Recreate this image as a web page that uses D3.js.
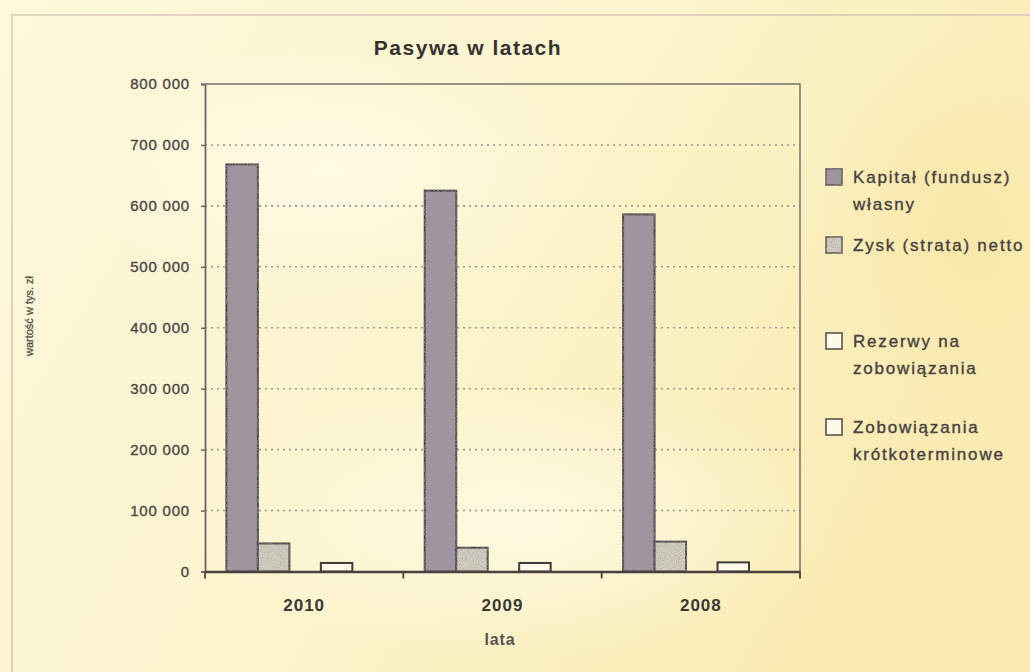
<!DOCTYPE html>
<html>
<head>
<meta charset="utf-8">
<script src="https://cdn.jsdelivr.net/npm/d3@7"></script>
<style>
  body { margin: 0; background: #fbf3c6; }
  svg { display: block; font-family: "Liberation Sans", Arial, sans-serif; }
</style>
</head>
<body>
<svg id="chart"></svg>
<script>
// data (values in zł thousands)
const years = ["2010", "2009", "2008"];
const seriesNames = ["Kapitał (fundusz) własny", "Zysk (strata) netto", "Rezerwy na zobowiązania", "Zobowiązania krótkoterminowe"];
const legendLines = [["Kapitał (fundusz)", "własny"], ["Zysk (strata) netto"], ["Rezerwy na", "zobowiązania"], ["Zobowiązania", "krótkoterminowe"]];
const kapital = [668000, 625000, 586000];
const zysk = [46000, 39000, 49000];
const rezerwy = [0, 0, 0];
const zobowiazania = [14000, 14000, 15000];
const yTicks = [0, 100000, 200000, 300000, 400000, 500000, 600000, 700000, 800000];

const seriesValues = [kapital, zysk, rezerwy, zobowiazania];
const seriesColors = ["#a0939f", "#d9d3c3", "#fffbe8", "#fffbe8"];
const legendY = [183, 251, 347, 433]; // baselines of first legend line

const W = 1030, H = 672;
const plot = { left: 205, right: 800, top: 84, bottom: 571.5 };

const svg = d3.select('#chart').attr('width', W).attr('height', H);

// paper-like background
const defs = svg.append('defs');
const bg = defs.append('linearGradient').attr('id', 'bg').attr('x1', 0).attr('y1', 0).attr('x2', 1).attr('y2', 0.4);
bg.append('stop').attr('offset', '0%').attr('stop-color', '#fdf8dc');
bg.append('stop').attr('offset', '55%').attr('stop-color', '#fcf4cc');
bg.append('stop').attr('offset', '100%').attr('stop-color', '#f9ebb2');
const spot = defs.append('radialGradient').attr('id', 'spot');
spot.append('stop').attr('offset', '0%').attr('stop-color', '#fffbe6').attr('stop-opacity', 0.9);
spot.append('stop').attr('offset', '100%').attr('stop-color', '#fffbe6').attr('stop-opacity', 0);
const warm = defs.append('radialGradient').attr('id', 'warm');
warm.append('stop').attr('offset', '0%').attr('stop-color', '#f7e6a2').attr('stop-opacity', 0.7);
warm.append('stop').attr('offset', '100%').attr('stop-color', '#f7e6a2').attr('stop-opacity', 0);

svg.append('rect').attr('width', W).attr('height', H).attr('fill', 'url(#bg)');
svg.append('ellipse').attr('cx', 330).attr('cy', 170).attr('rx', 260).attr('ry', 130).attr('fill', 'url(#spot)');
svg.append('ellipse').attr('cx', 520).attr('cy', 520).attr('rx', 320).attr('ry', 140).attr('fill', 'url(#spot)');
svg.append('ellipse').attr('cx', 960).attr('cy', 220).attr('rx', 140).attr('ry', 180).attr('fill', 'url(#warm)');

// faint outer chart-area border
svg.append('path')
  .attr('d', `M12,${H} V15 H${W}`)
  .attr('fill', 'none')
  .attr('stroke', '#d9c6b6')
  .attr('stroke-width', 1.5);

// grain for bars (region a bit bigger than the box so the stroke is kept)
const grain = defs.append('filter').attr('id', 'grain')
  .attr('x', '-20%').attr('y', '-5%').attr('width', '140%').attr('height', '110%');
grain.append('feTurbulence').attr('type', 'fractalNoise').attr('baseFrequency', 0.8).attr('numOctaves', 2).attr('result', 'noise');
grain.append('feColorMatrix').attr('in', 'noise').attr('type', 'matrix')
  .attr('values', '0 0 0 0 0.35  0 0 0 0 0.33  0 0 0 0 0.35  1.6 0 0 0 -0.55').attr('result', 'n2');
grain.append('feComposite').attr('in', 'n2').attr('in2', 'SourceGraphic').attr('operator', 'in').attr('result', 'n3');
const merge = grain.append('feMerge');
merge.append('feMergeNode').attr('in', 'SourceGraphic');
merge.append('feMergeNode').attr('in', 'n3');

// scales
const x0 = d3.scaleBand().domain(years).range([plot.left, plot.right]).padding(0);
const bw = x0.bandwidth() / 6.3;
const x1 = d3.scaleBand().domain(seriesNames).range([0.68 * bw, 0.68 * bw + 4 * bw]).padding(0);
const y = d3.scaleLinear().domain([0, 800000]).range([plot.bottom, plot.top]);

const fmt = d3.formatLocale({ decimal: ",", thousands: " ", grouping: [3], currency: ["", ""] }).format(",");

// gridlines
svg.append('g')
  .selectAll('line')
  .data(yTicks.filter(d => d > 0 && d < 800000))
  .enter()
  .append('line')
    .attr('x1', plot.left)
    .attr('x2', plot.right)
    .attr('y1', d => y(d))
    .attr('y2', d => y(d))
    .attr('stroke', '#a8928a')
    .attr('stroke-width', 1.6)
    .attr('stroke-dasharray', '2,4');

// plot frame (top + right)
svg.append('path')
  .attr('d', `M${plot.left},${plot.top} H${plot.right} V${plot.bottom}`)
  .attr('fill', 'none')
  .attr('stroke', '#7a7070')
  .attr('stroke-width', 1.5);

// bars
const group = svg.selectAll('.year')
  .data(years)
  .enter()
  .append('g')
  .attr('class', 'year')
  .attr('transform', d => `translate(${x0(d)},0)`);

group.selectAll('rect')
  .data((d, i) => seriesNames.map((s, k) => ({ key: s, k: k, value: seriesValues[k][i] })))
  .enter()
  .filter(d => d.value > 0)
  .append('rect')
    .attr('x', d => x1(d.key))
    .attr('y', d => y(d.value))
    .attr('width', x1.bandwidth())
    .attr('height', d => y(0) - y(d.value))
    .attr('fill', d => seriesColors[d.k])
    .attr('filter', d => d.k < 2 ? 'url(#grain)' : null)
    .attr('stroke', '#3f3a3a')
    .attr('stroke-width', 2);

// y axis
const yAxis = svg.append('g')
  .attr('transform', `translate(${plot.left},0)`)
  .call(d3.axisLeft(y).tickValues(yTicks).tickFormat(fmt).tickSize(4).tickPadding(11));
yAxis.select('.domain').attr('stroke', '#6d6666').attr('stroke-width', 1.8);
yAxis.selectAll('.tick line').attr('stroke', '#6d6666').attr('stroke-width', 1.5);
yAxis.selectAll('.tick text')
  .attr('font-size', 15)
  .attr('letter-spacing', 0.8)
  .attr('fill', '#4a4444')
  .attr('stroke', '#4a4444')
  .attr('stroke-width', 0.35)
  .attr('font-family', '"Liberation Sans", Arial, sans-serif');

// x axis (category labels + boundary ticks)
const xAxis = svg.append('g')
  .attr('transform', `translate(0,${plot.bottom})`)
  .call(d3.axisBottom(x0).tickSize(0).tickPadding(27));
xAxis.select('.domain').attr('stroke', '#4a4040').attr('stroke-width', 2.4);
xAxis.selectAll('.tick text')
  .attr('font-size', 17)
  .attr('font-weight', 'bold')
  .attr('letter-spacing', 1)
  .attr('fill', '#3a3636')
  .attr('font-family', '"Liberation Sans", Arial, sans-serif');

svg.append('g')
  .selectAll('line')
  .data(years.map(d => x0(d)).concat([plot.right]))
  .enter()
  .append('line')
    .attr('x1', d => d)
    .attr('x2', d => d)
    .attr('y1', plot.bottom)
    .attr('y2', plot.bottom + 7)
    .attr('stroke', '#4a4040')
    .attr('stroke-width', 1.8);

// title
svg.append('text')
  .attr('x', 468)
  .attr('y', 55)
  .attr('text-anchor', 'middle')
  .attr('font-size', 21)
  .attr('font-weight', 'bold')
  .attr('letter-spacing', 1.5)
  .attr('fill', '#363232')
  .text('Pasywa w latach');

// axis titles
svg.append('text')
  .attr('x', 500)
  .attr('y', 645)
  .attr('text-anchor', 'middle')
  .attr('font-size', 16)
  .attr('font-weight', 'bold')
  .attr('letter-spacing', 0.8)
  .attr('fill', '#555')
  .text('lata');

svg.append('text')
  .attr('transform', 'translate(33,316) rotate(-90)')
  .attr('text-anchor', 'middle')
  .attr('font-size', 11)
  .attr('fill', '#4e4848')
  .attr('stroke', '#4e4848')
  .attr('stroke-width', 0.25)
  .text('wartość w tys. zł');

// legend
const legend = svg.selectAll('.legend-element')
  .data(legendLines)
  .enter()
  .append('g')
  .attr('class', 'legend-element')
  .attr('transform', (d, i) => `translate(0,${legendY[i]})`);

legend.append('rect')
  .attr('x', 826)
  .attr('y', -14)
  .attr('width', 16)
  .attr('height', 16)
  .attr('fill', (d, i) => seriesColors[i])
  .attr('filter', (d, i) => i < 2 ? 'url(#grain)' : null)
  .attr('stroke', '#5a5252')
  .attr('stroke-width', 1.6);

legend.append('text')
  .attr('font-size', 17)
  .attr('letter-spacing', 1.8)
  .attr('fill', '#454040')
  .attr('stroke', '#454040')
  .attr('stroke-width', 0.35)
  .selectAll('tspan')
  .data(d => d)
  .enter()
  .append('tspan')
    .attr('x', 853)
    .attr('dy', (d, i) => i === 0 ? 0 : 27)
    .text(d => d);
</script>
</body>
</html>
